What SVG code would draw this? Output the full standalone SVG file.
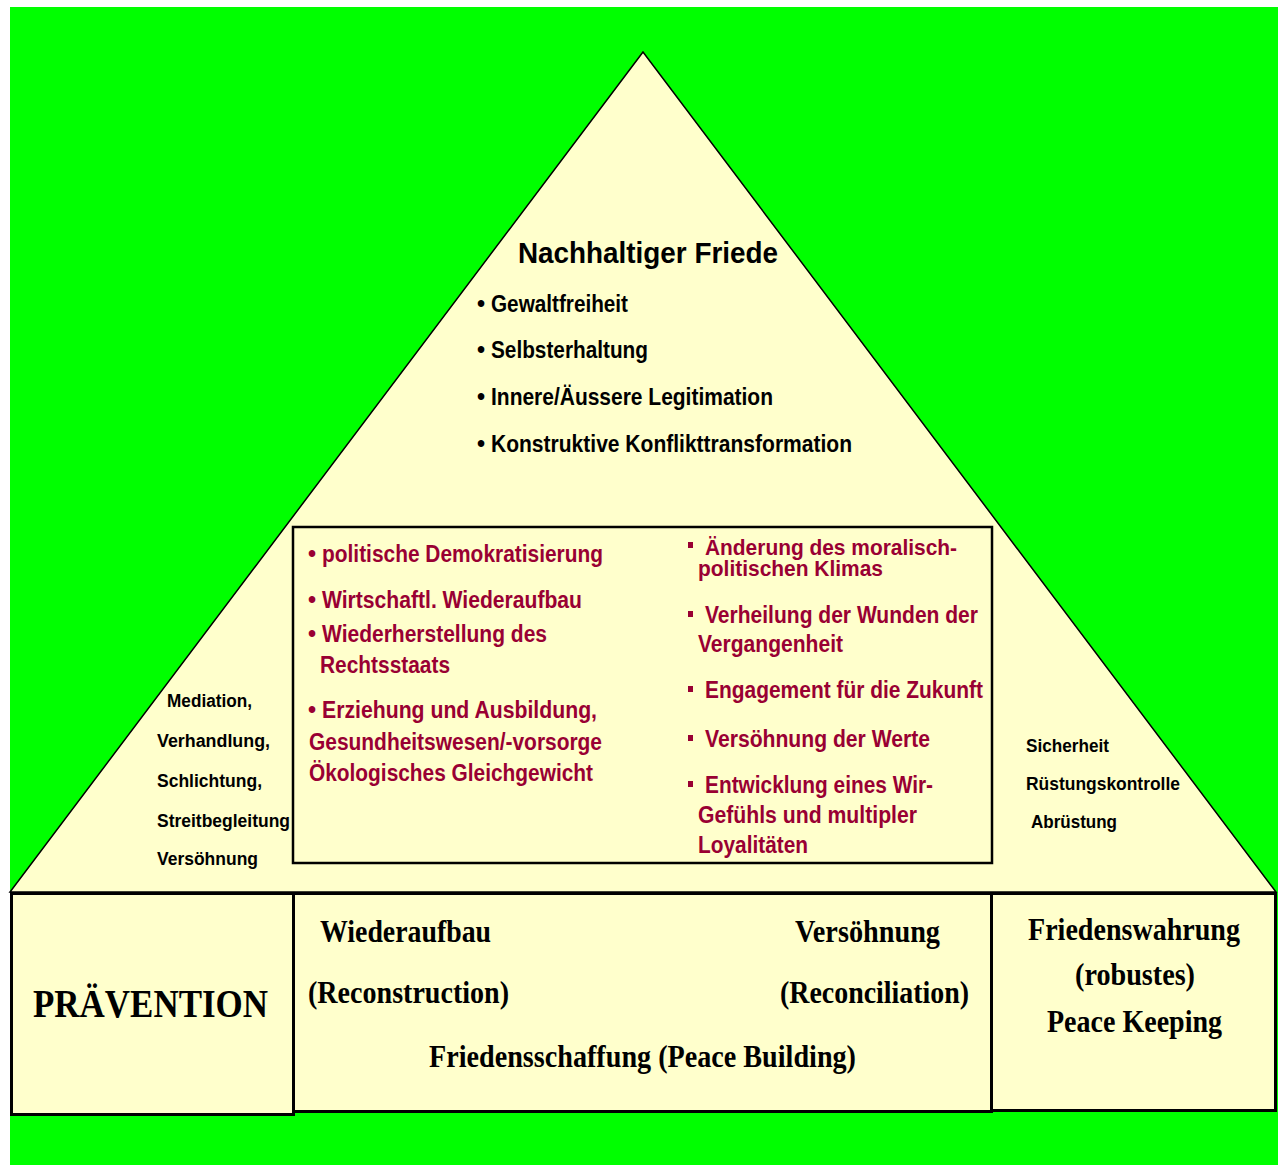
<svg xmlns="http://www.w3.org/2000/svg" width="1278" height="1165" viewBox="0 0 1278 1165">
<style>
.sans{font-family:"Liberation Sans",Arial,sans-serif;font-weight:bold;}
.serif{font-family:"Liberation Serif","Times New Roman",serif;font-weight:bold;fill:#000;}
.blk{fill:#000;}
.red{fill:#990033;}
.box{fill:#FFFFCC;stroke:#000;stroke-width:3;}
.sq{fill:#990033;}
</style>
<rect x="0" y="0" width="1278" height="1165" fill="#FFFFFF"/>
<rect x="10" y="7" width="1268" height="1158" fill="#00FF00"/>
<g id="pyramid">
<polygon points="643,52 10,892 1276,892" fill="#FFFFCC" stroke="#000" stroke-width="1.5"/>
</g>
<g id="connectors"></g>
<g id="peak">
<text class="sans blk" x="518" y="263" font-size="30" textLength="260" lengthAdjust="spacingAndGlyphs">Nachhaltiger Friede</text>
<text class="sans blk" x="477" y="312" font-size="23">•</text>
<text class="sans blk" x="491" y="312" font-size="23" textLength="137" lengthAdjust="spacingAndGlyphs">Gewaltfreiheit</text>
<text class="sans blk" x="477" y="358" font-size="23">•</text>
<text class="sans blk" x="491" y="358" font-size="23" textLength="157" lengthAdjust="spacingAndGlyphs">Selbsterhaltung</text>
<text class="sans blk" x="477" y="405" font-size="23">•</text>
<text class="sans blk" x="491" y="405" font-size="23" textLength="282" lengthAdjust="spacingAndGlyphs">Innere/Äussere Legitimation</text>
<text class="sans blk" x="477" y="452" font-size="23">•</text>
<text class="sans blk" x="491" y="452" font-size="23" textLength="361" lengthAdjust="spacingAndGlyphs">Konstruktive Konflikttransformation</text>
</g>
<g id="measures">
<rect x="293" y="527" width="699" height="336" fill="none" stroke="#000" stroke-width="2.5"/>
<text class="sans red" x="308" y="562" font-size="23">•</text>
<text class="sans red" x="322" y="562" font-size="23" textLength="281" lengthAdjust="spacingAndGlyphs">politische Demokratisierung</text>
<text class="sans red" x="308" y="608" font-size="23">•</text>
<text class="sans red" x="322" y="608" font-size="23" textLength="260" lengthAdjust="spacingAndGlyphs">Wirtschaftl. Wiederaufbau</text>
<text class="sans red" x="308" y="642" font-size="23">•</text>
<text class="sans red" x="322" y="642" font-size="23" textLength="225" lengthAdjust="spacingAndGlyphs">Wiederherstellung des</text>
<text class="sans red" x="320" y="673" font-size="23" textLength="130" lengthAdjust="spacingAndGlyphs">Rechtsstaats</text>
<text class="sans red" x="308" y="718" font-size="23">•</text>
<text class="sans red" x="322" y="718" font-size="23" textLength="275" lengthAdjust="spacingAndGlyphs">Erziehung und Ausbildung,</text>
<text class="sans red" x="309" y="750" font-size="23" textLength="293" lengthAdjust="spacingAndGlyphs">Gesundheitswesen/-vorsorge</text>
<text class="sans red" x="309" y="781" font-size="23" textLength="284" lengthAdjust="spacingAndGlyphs">Ökologisches Gleichgewicht</text>
<rect class="sq" x="688" y="542" width="5" height="6"/>
<text class="sans red" x="705" y="555" font-size="22" textLength="252" lengthAdjust="spacingAndGlyphs">Änderung des moralisch-</text>
<text class="sans red" x="698" y="576" font-size="22" textLength="185" lengthAdjust="spacingAndGlyphs">politischen Klimas</text>
<rect class="sq" x="688" y="611" width="5" height="6"/>
<text class="sans red" x="705" y="623" font-size="23" textLength="273" lengthAdjust="spacingAndGlyphs">Verheilung der Wunden der</text>
<text class="sans red" x="698" y="652" font-size="23" textLength="145" lengthAdjust="spacingAndGlyphs">Vergangenheit</text>
<rect class="sq" x="688" y="686" width="5" height="6"/>
<text class="sans red" x="705" y="698" font-size="23" textLength="278" lengthAdjust="spacingAndGlyphs">Engagement für die Zukunft</text>
<rect class="sq" x="688" y="735" width="5" height="6"/>
<text class="sans red" x="705" y="747" font-size="23" textLength="225" lengthAdjust="spacingAndGlyphs">Versöhnung der Werte</text>
<rect class="sq" x="688" y="781" width="5" height="6"/>
<text class="sans red" x="705" y="793" font-size="23" textLength="228" lengthAdjust="spacingAndGlyphs">Entwicklung eines Wir-</text>
<text class="sans red" x="698" y="823" font-size="23" textLength="219" lengthAdjust="spacingAndGlyphs">Gefühls und multipler</text>
<text class="sans red" x="698" y="853" font-size="23" textLength="110" lengthAdjust="spacingAndGlyphs">Loyalitäten</text>
</g>
<g id="left-list">
<text class="sans blk" x="167" y="707" font-size="18" textLength="85" lengthAdjust="spacingAndGlyphs">Mediation,</text>
<text class="sans blk" x="157" y="747" font-size="18" textLength="113" lengthAdjust="spacingAndGlyphs">Verhandlung,</text>
<text class="sans blk" x="157" y="787" font-size="18" textLength="105" lengthAdjust="spacingAndGlyphs">Schlichtung,</text>
<text class="sans blk" x="157" y="827" font-size="18" textLength="133" lengthAdjust="spacingAndGlyphs">Streitbegleitung</text>
<text class="sans blk" x="157" y="865" font-size="18" textLength="101" lengthAdjust="spacingAndGlyphs">Versöhnung</text>
</g>
<g id="right-list">
<text class="sans blk" x="1026" y="752" font-size="18" textLength="83" lengthAdjust="spacingAndGlyphs">Sicherheit</text>
<text class="sans blk" x="1026" y="790" font-size="18" textLength="154" lengthAdjust="spacingAndGlyphs">Rüstungskontrolle</text>
<text class="sans blk" x="1031" y="828" font-size="18" textLength="86" lengthAdjust="spacingAndGlyphs">Abrüstung</text>
</g>
<g id="praevention">
<rect class="box" x="11.5" y="893.5" width="282" height="221"/>
<text class="serif" x="33" y="1017" font-size="41" textLength="235" lengthAdjust="spacingAndGlyphs">PRÄVENTION</text>
</g>
<g id="peace-building">
<rect class="box" x="293.5" y="893.5" width="698" height="218"/>
<text class="serif" x="320" y="942" font-size="32" textLength="171" lengthAdjust="spacingAndGlyphs">Wiederaufbau</text>
<text class="serif" x="308" y="1003" font-size="32" textLength="201" lengthAdjust="spacingAndGlyphs">(Reconstruction)</text>
<text class="serif" x="795" y="942" font-size="32" textLength="145" lengthAdjust="spacingAndGlyphs">Versöhnung</text>
<text class="serif" x="780" y="1003" font-size="32" textLength="189" lengthAdjust="spacingAndGlyphs">(Reconciliation)</text>
<text class="serif" x="429" y="1067" font-size="32" textLength="427" lengthAdjust="spacingAndGlyphs">Friedensschaffung (Peace Building)</text>
</g>
<g id="peace-keeping">
<rect class="box" x="991.5" y="893.5" width="284" height="217"/>
<text class="serif" x="1028" y="940" font-size="32" textLength="212" lengthAdjust="spacingAndGlyphs">Friedenswahrung</text>
<text class="serif" x="1075" y="985" font-size="32" textLength="120" lengthAdjust="spacingAndGlyphs">(robustes)</text>
<text class="serif" x="1047" y="1032" font-size="32" textLength="175" lengthAdjust="spacingAndGlyphs">Peace Keeping</text>
</g>
</svg>
